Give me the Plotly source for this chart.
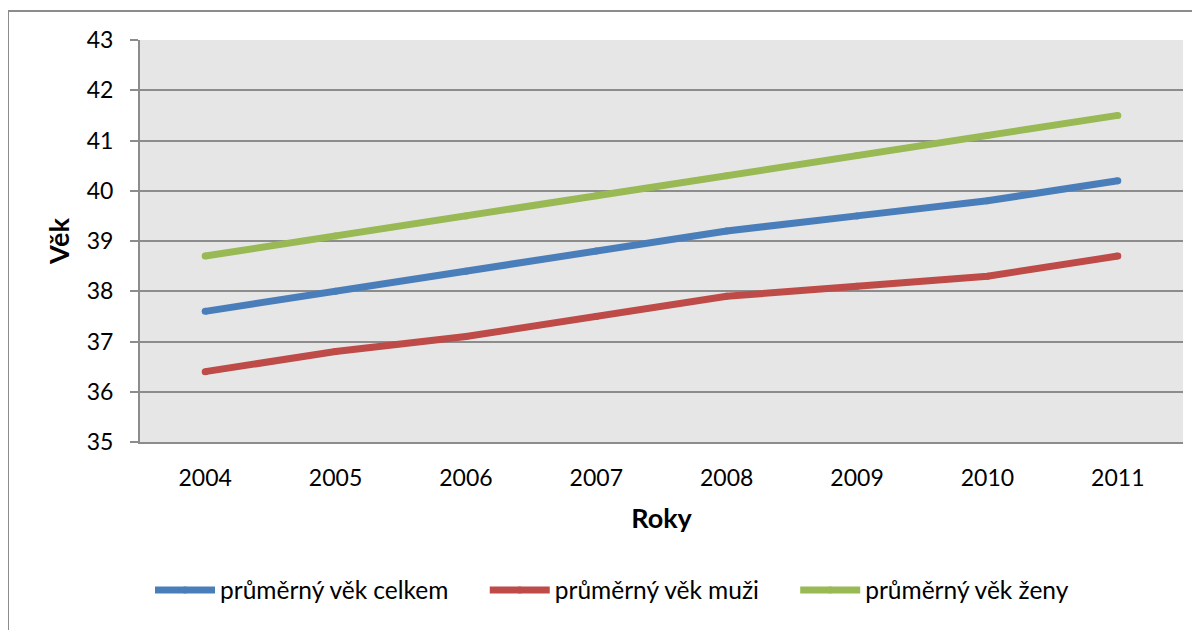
import plotly.graph_objects as go

years = ["2004", "2005", "2006", "2007", "2008", "2009", "2010", "2011"]
celkem = [37.6, 38.0, 38.4, 38.8, 39.2, 39.5, 39.8, 40.2]
muzi = [36.4, 36.8, 37.1, 37.5, 37.9, 38.1, 38.3, 38.7]
zeny = [38.7, 39.1, 39.5, 39.9, 40.3, 40.7, 41.1, 41.5]
y_ticks = [35, 36, 37, 38, 39, 40, 41, 42, 43]

names = ["průměrný věk celkem", "průměrný věk muži", "průměrný věk ženy"]
colors = ["#4a7ebb", "#be4b48", "#98b954"]
series = [celkem, muzi, zeny]

FONT = "Lato"
GRID = "#8c8c8c"
PAD = "\u00a0" * 5

fig = go.Figure()
for name, col, vals in zip(names, colors, series):
    fig.add_trace(go.Scatter(
        x=years, y=vals, name=name + PAD, mode="lines+markers",
        line=dict(color=col, width=7),
        marker=dict(color=col, size=7, line=dict(width=0)),
    ))

# page renders the figure with an 8px body offset
W, H = 1192, 622
L, T = 132, 32
R, B = W - 1175, H - 434
pw, ph = W - L - R, H - T - B

fig.update_layout(
    width=W, height=H,
    margin=dict(l=L, r=R, t=T, b=B),
    paper_bgcolor="white",
    plot_bgcolor="#e6e6e6",
    font=dict(family=FONT, size=23, color="black"),
    showlegend=True,
    legend=dict(
        orientation="h",
        x=(142 - L) / pw, xanchor="left",
        y=(H - B - 582) / ph, yanchor="middle",
        itemwidth=60,
        font=dict(family=FONT, size=24.5, color="black"),
        bgcolor="rgba(0,0,0,0)",
        traceorder="normal",
    ),
    xaxis=dict(
        type="category",
        range=[-0.5, 7.5],
        showgrid=False,
        showline=True, linecolor=GRID, linewidth=2,
        ticks="", ticklabelstandoff=14,
        tickfont=dict(family=FONT, size=23),
        title=dict(text="<b>Roky</b>", font=dict(family=FONT, size=27), standoff=20),
        zeroline=False,
    ),
    yaxis=dict(
        range=[35, 43],
        tickvals=y_ticks,
        showgrid=True, gridcolor=GRID, gridwidth=2,
        showline=True, linecolor=GRID, linewidth=2,
        ticks="outside", ticklen=8, tickcolor=GRID, tickwidth=2,
        ticklabelstandoff=12,
        tickfont=dict(family=FONT, size=23),
        title=dict(text="<b>Věk</b>", font=dict(family=FONT, size=27), standoff=9),
        zeroline=False,
    ),
    shapes=[dict(
        type="rect", xref="paper", yref="paper",
        x0=(0 - L) / pw, x1=(W + 20 - L) / pw,
        y0=(H - B - (H + 20)) / ph, y1=(H - B - 3) / ph,
        line=dict(color=GRID, width=2), fillcolor="rgba(0,0,0,0)",
        layer="below",
    )],
)

fig.write_html("out.html")
